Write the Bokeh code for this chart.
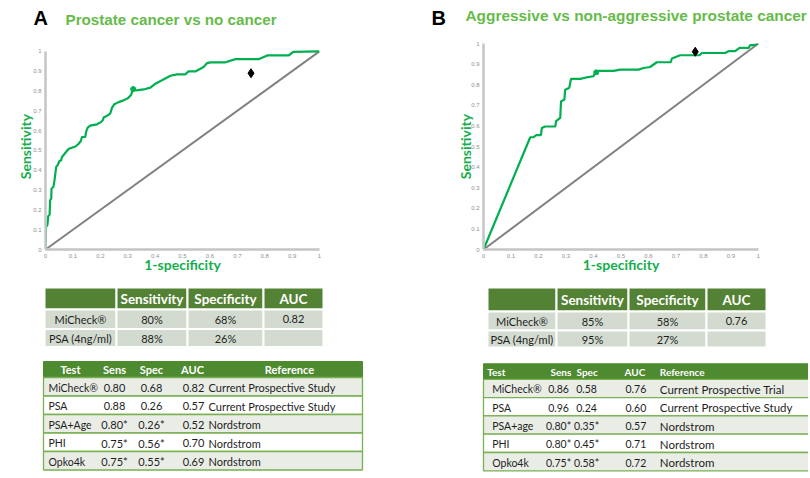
from bokeh.plotting import figure
from bokeh.models import Range1d, FixedTicker, CustomJSTickFormatter
from bokeh.layouts import row, column
from bokeh.embed import file_html
from bokeh.resources import INLINE
from bokeh.core.properties import value

# ---------------- data ----------------
tick_vals = [0, 0.1, 0.2, 0.3, 0.4, 0.5, 0.6, 0.7, 0.8, 0.9, 1]

# Panel A ROC: prostate cancer vs no cancer
fpr_a = [0, 0.002, 0.007, 0.01, 0.015, 0.017, 0.021, 0.022, 0.029, 0.033, 0.039, 0.044,
         0.051, 0.057, 0.06, 0.072, 0.084, 0.096, 0.111, 0.121, 0.129, 0.133, 0.145, 0.149,
         0.154, 0.163, 0.188, 0.202, 0.21, 0.212, 0.227, 0.236, 0.243, 0.251, 0.267, 0.285,
         0.30, 0.312, 0.319, 0.331, 0.358, 0.383, 0.401, 0.425, 0.456, 0.48, 0.51, 0.522,
         0.547, 0.577, 0.59, 0.602, 0.657, 0.693, 0.778, 0.809, 0.888, 0.904, 1]
tpr_a = [0, 0.115, 0.123, 0.168, 0.176, 0.249, 0.257, 0.308, 0.316, 0.35, 0.417, 0.425,
         0.447, 0.45, 0.467, 0.487, 0.507, 0.514, 0.521, 0.534, 0.548, 0.568, 0.568, 0.598,
         0.615, 0.625, 0.632, 0.643, 0.655, 0.666, 0.677, 0.686, 0.716, 0.733, 0.744, 0.753,
         0.763, 0.78, 0.807, 0.803, 0.808, 0.817, 0.837, 0.854, 0.877, 0.884, 0.884, 0.899,
         0.899, 0.921, 0.941, 0.945, 0.945, 0.961, 0.961, 0.98, 0.98, 0.998, 1]
micheck_a = (0.32, 0.81)
psa_a = (0.75, 0.89)

# Panel B ROC: aggressive vs non-aggressive
fpr_b = [0, 0.17, 0.182, 0.192, 0.209, 0.212, 0.224, 0.261, 0.264, 0.279, 0.282, 0.294,
         0.297, 0.312, 0.318, 0.352, 0.37, 0.40, 0.406, 0.418, 0.473, 0.497, 0.564, 0.582,
         0.606, 0.63, 0.681, 0.685, 0.715, 0.785, 0.794, 0.879, 0.891, 0.915, 0.931, 0.964,
         0.97, 0.982, 1]
tpr_b = [0, 0.545, 0.545, 0.555, 0.555, 0.59, 0.597, 0.597, 0.623, 0.639, 0.72, 0.727,
         0.776, 0.785, 0.828, 0.828, 0.834, 0.841, 0.857, 0.867, 0.867, 0.873, 0.873, 0.881,
         0.886, 0.909, 0.909, 0.927, 0.943, 0.943, 0.954, 0.954, 0.963, 0.963, 0.979, 0.979,
         0.992, 0.992, 1]
micheck_b = (0.41, 0.86)
psa_b = (0.77, 0.96)

chance_x = [0, 1]
chance_y = [0, 1]

# Panel headings
letters = ["A", "B"]
titles = ["Prostate cancer vs no cancer", "Aggressive vs non-aggressive prostate cancer"]

# Summary tables
summary_head = ["", "Sensitivity", "Specificity", "AUC"]
summary_a = [["MiCheck®", "80%", "68%", "0.82"],
             ["PSA (4ng/ml)", "88%", "26%", ""]]
summary_b = [["MiCheck®", "85%", "58%", "0.76"],
             ["PSA (4ng/ml)", "95%", "27%", ""]]

# Comparison tables
comp_head = ["Test", "Sens", "Spec", "AUC", "Reference"]
tests_a = ["MiCheck®", "PSA", "PSA+Age", "PHI", "Opko4k"]
sens_a = ["0.80", "0.88", "0.80*", "0.75*", "0.75*"]
spec_a = ["0.68", "0.26", "0.26*", "0.56*", "0.55*"]
auc_a = ["0.82", "0.57", "0.52", "0.70", "0.69"]
ref_a = ["Current Prospective Study", "Current Prospective Study", "Nordstrom", "Nordstrom", "Nordstrom"]

tests_b = ["MiCheck®", "PSA", "PSA+age", "PHI", "Opko4k"]
sens_b = ["0.86", "0.96", "0.80*", "0.80*", "0.75*"]
spec_b = ["0.58", "0.24", "0.35*", "0.45*", "0.58*"]
auc_b = ["0.76", "0.60", "0.57", "0.71", "0.72"]
ref_b = ["Current Prospective Trial", "Current Prospective Study", "Nordstrom", "Nordstrom", "Nordstrom"]

# ---------------- styles ----------------
CURVE = "#00b050"
TITLE_GREEN = "#66bb4a"
LABEL_GREEN = "#14ae4c"
HEAD_GREEN = "#548235"
HEAD_GREEN2 = "#4e8a2f"
ROW_FILL1 = "#d3dbd0"
ROW_FILL2 = "#e9ede6"
ROW_LINE = "#78b052"
TXT = "#1e1e1e"
FONT = "Lato"
W = 808


def canvas_fig(width, height):
    p = figure(width=width, height=height, x_range=Range1d(0, width), y_range=Range1d(height, 0),
               min_border=0, toolbar_location=None, output_backend="svg",
               x_axis_type=None, y_axis_type=None, title=None)
    p.outline_line_color = None
    p.grid.visible = False
    return p


def roc_fig(width, height, ml, mr, mt, mb, y_end, fpr, tpr, mi, psa, ylab_standoff):
    p = figure(width=width, height=height, x_range=Range1d(0, 1), y_range=Range1d(0, y_end),
               min_border_left=ml, min_border_right=mr, min_border_top=mt, min_border_bottom=mb,
               toolbar_location=None, output_backend="svg")
    p.outline_line_color = None
    p.grid.visible = False
    fmt = CustomJSTickFormatter(code="return String(tick)")
    for ax in (p.xaxis[0], p.yaxis[0]):
        ax.ticker = FixedTicker(ticks=tick_vals)
        ax.formatter = fmt
        ax.bounds = (0, 1)
        ax.axis_line_color = "#c4c4c4"
        ax.axis_line_width = 2.5
        ax.major_tick_out = 0
        ax.major_tick_in = 0
        ax.minor_tick_out = 0
        ax.minor_tick_in = 0
        ax.major_label_text_font_size = "6px"
        ax.major_label_text_color = "#8f8f8f"
        ax.major_label_text_font = "Liberation Sans"
        ax.major_label_standoff = 4
        ax.axis_label_text_font = FONT
        ax.axis_label_text_font_style = "bold"
        ax.axis_label_text_font_size = "14px"
        ax.axis_label_text_color = LABEL_GREEN
    p.xaxis.axis_label = "1-specificity"
    p.yaxis.axis_label = "Sensitivity"
    p.xaxis.axis_label_standoff = -5
    p.yaxis.axis_label_standoff = ylab_standoff

    p.line(chance_x, chance_y, line_color="#808080", line_width=2)
    p.line(fpr, tpr, line_color=CURVE, line_width=2.2)
    p.scatter([mi[0]], [mi[1]], marker="circle", size=5, color=CURVE)
    p.scatter([psa[0]], [psa[1]], marker="diamond", size=9, color="black")
    return p


def cum(start, sizes):
    out = [start]
    for s in sizes:
        out.append(out[-1] + s)
    return out


def summary_table(p, left, col_w, top, row_h, head, rows):
    xs = cum(left, col_w)
    ys = cum(top, row_h)
    ncol = len(col_w)
    p.quad(left=xs[:-1], right=xs[1:], top=[ys[0]] * ncol, bottom=[ys[1]] * ncol,
           fill_color=HEAD_GREEN, line_color="white", line_width=2)
    cx = [(xs[i] + xs[i + 1]) / 2 for i in range(ncol)]
    p.text(cx, [(ys[0] + ys[1]) / 2] * ncol, text=head, text_align="center",
           text_baseline="middle", text_font=value(FONT), text_font_style="bold",
           text_font_size="13.5px", text_color="white")
    for r, vals in enumerate(rows):
        p.quad(left=xs[:-1], right=xs[1:], top=[ys[r + 1]] * ncol, bottom=[ys[r + 2]] * ncol,
               fill_color=ROW_FILL1, line_color="white", line_width=2)
        p.text(cx, [(ys[r + 1] + ys[r + 2]) / 2] * ncol, text=vals, text_align="center",
               text_baseline="middle", text_font=value(FONT), text_font_size="11px",
               text_color=TXT)


def compare_table(p, left, right, top, head_h, row_h, head_x, head_align, head_size,
                  col_x, col_align, col_size, cols):
    nrow = len(cols[0])
    ys = cum(top, [head_h] + [row_h] * nrow)
    p.quad(left=[left], right=[right], top=[ys[0]], bottom=[ys[1]],
           fill_color=HEAD_GREEN2, line_color=HEAD_GREEN2, line_width=1)
    fills = [ROW_FILL2 if i % 2 == 0 else "white" for i in range(nrow)]
    p.quad(left=[left] * nrow, right=[right] * nrow, top=ys[1:-1], bottom=ys[2:],
           fill_color=fills, line_color=ROW_LINE, line_width=1.3)
    hy = (ys[0] + ys[1]) / 2
    for hx, ha, h in zip(head_x, head_align, comp_head):
        p.text([hx], [hy], text=[h], text_align=ha, text_baseline="middle",
               text_font=value(FONT), text_font_style="bold", text_font_size=head_size,
               text_color="white")
    cy = [(ys[i + 1] + ys[i + 2]) / 2 + 1 for i in range(nrow)]
    for x, a, s, vals in zip(col_x, col_align, col_size, cols):
        p.text([x] * nrow, cy, text=vals, text_align=a, text_baseline="middle",
               text_font=value(FONT), text_font_size=s, text_color=TXT)


# ---------------- headings ----------------
head = canvas_fig(W, 30)
head.text([33, 431], [17, 17], text=letters, text_baseline="middle",
          text_font=value("Liberation Sans"), text_font_style="bold",
          text_font_size="20px", text_color="black")
head.text([65], [18.7], text=titles[:1], text_baseline="middle",
          text_font=value("Liberation Sans"), text_font_style="bold",
          text_font_size="15.2px", text_color=TITLE_GREEN)
head.text([465], [15.3], text=titles[1:], text_baseline="middle",
          text_font=value("Liberation Sans"), text_font_style="bold",
          text_font_size="15.4px", text_color=TITLE_GREEN)

# ---------------- ROC panels ----------------
roc_a = roc_fig(420, 248, 45, 101, 13, 29, 1.04, fpr_a, tpr_a, micheck_a, psa_a, -4)
roc_b = roc_fig(388, 248, 63, 50, 13, 29, 1.0, fpr_b, tpr_b, micheck_b, psa_b, -6)

# ---------------- tables ----------------
tab = canvas_fig(W, 198)
summary_table(tab, 44, [72, 71, 76, 60], 9, [22, 19.5, 18], summary_head, summary_a)
compare_table(tab, 43, 362, 83, 16, 18.5,
              [70, 114, 151, 192, 289], ["center"] * 5, "11px",
              [48, 114, 151, 193, 208], ["left", "center", "center", "center", "left"],
              ["10.5px", "11px", "11px", "11px", "11px"],
              [tests_a, sens_a, spec_a, auc_a, ref_a])

summary_table(tab, 487, [69, 72, 78, 60], 9, [24, 19, 17], summary_head, summary_b)
compare_table(tab, 483, 815, 85.3, 15.5, 18.3,
              [486.7, 550, 576, 624, 659.3], ["left"] * 5, "10px",
              [491.7, 558, 586, 625, 659.3], ["left", "center", "center", "left", "left"],
              ["10.5px", "10.5px", "10.5px", "10.5px", "11.5px"],
              [tests_b, sens_b, spec_b, auc_b, ref_b])

layout = column(head, row(roc_a, roc_b), tab)

open("out.html", "w").write(file_html(layout, INLINE))
